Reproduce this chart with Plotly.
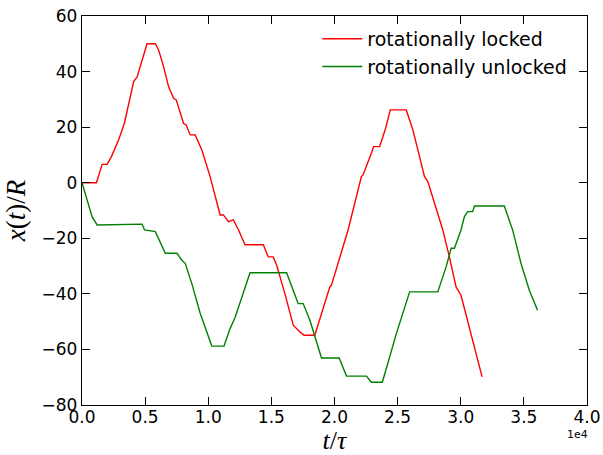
import plotly.graph_objects as go

# rotationally locked (red)
t_locked = [0, 1145, 1595, 1990, 2330, 2646, 2900, 3357, 4092, 4360, 4755, 5150, 5806, 6066,
            6460, 6856, 7250, 7464, 8040, 8254, 8570, 8965, 9494, 10150, 10940, 11200, 11600,
            11990, 12400, 12915, 14360, 14755, 15150, 15420, 16070, 16730, 17260, 17600, 18440,
            18970, 19630, 19760, 20680, 21075, 22130, 22260, 22920, 23100, 23580, 24050, 24420,
            25685, 26210, 27130, 27390, 28580, 29100, 29630, 30020, 31690]
x_locked = [0, 0, 6.6, 6.6, 9.4, 13, 15.4, 21.4, 36.4, 38, 44.2, 50, 50, 47.8,
            41.8, 34.6, 30.4, 29.8, 21.4, 20.8, 17.2, 17.2, 11.8, 2.2, -11.6, -11.6, -14,
            -13.4, -17, -22.3, -22.3, -26.7, -26.7, -29.7, -39.9, -51.3, -53.7, -54.9, -54.9,
            -47, -37.5, -36.9, -23, -17, 2.2, 2.8, 10.6, 13, 13, 19.6, 26.2,
            26.2, 19, 2.2, 0.4, -17, -26.7, -37.5, -40.5, -69.9]

# rotationally unlocked (green)
t_unlocked = [0, 410, 805, 1200, 4755, 4960, 5806, 6600, 7520, 7910, 8175, 8700, 9360, 10280,
              11250, 11730, 12125, 13310, 16210, 17120, 17520, 18050, 18970, 20370, 20950,
              22530, 22920, 23790, 24900, 25950, 28180, 28840, 29240, 29500, 30020, 30290,
              30550, 30950, 31080, 33450, 34110, 34770, 35430, 36080]
x_unlocked = [0, -6.2, -12.3, -15.2, -14.9, -17, -17.6, -25.4, -25.4, -27.9, -29, -36.3, -47, -58.8,
              -58.8, -52.5, -48.5, -32.4, -32.4, -43.5, -43.5, -49.5, -63.1, -63.1, -69.6,
              -69.6, -71.8, -71.8, -54.3, -39.3, -39.3, -30.3, -23.6, -23.6, -17, -12.2,
              -10.4, -10.4, -8.4, -8.4, -17, -29, -38.7, -45.9]

x_tickvals = [0, 5000, 10000, 15000, 20000, 25000, 30000, 35000, 40000]
x_ticktext = ["0.0", "0.5", "1.0", "1.5", "2.0", "2.5", "3.0", "3.5", "4.0"]
y_tickvals = [-80, -60, -40, -20, 0, 20, 40, 60]
y_ticktext = ["\u221280", "\u221260", "\u221240", "\u221220", "0", "20", "40", "60"]

fig = go.Figure()
fig.add_trace(go.Scatter(x=t_locked, y=x_locked, mode="lines", name="rotationally locked",
                         legendgroup="a",
                         line=dict(color="#ff0000", width=1.4)))
fig.add_trace(go.Scatter(x=t_unlocked, y=x_unlocked, mode="lines", name="rotationally unlocked",
                         legendgroup="b",
                         line=dict(color="#008000", width=1.4)))

axis_common = dict(showgrid=False, zeroline=False, showline=True, linecolor="black",
                   linewidth=1.3, mirror="ticks", ticks="inside", ticklen=8, tickwidth=1.2,
                   automargin=False,
                   tickcolor="black", tickfont=dict(family="DejaVu Sans", size=17, color="black"))

fig.update_layout(
    width=603, height=455,
    margin=dict(l=81.5, r=15.7, t=16.2, b=50.3),
    plot_bgcolor="white", paper_bgcolor="white",
    xaxis=dict(range=[0, 40000], tickvals=x_tickvals, ticktext=x_ticktext,
               ticklabelstandoff=-4,
               title=dict(text="<i>t</i>/<i>τ</i>", font=dict(family="Liberation Serif", size=26, color="black"),
                          standoff=6),
               **axis_common),
    yaxis=dict(range=[-80, 60], tickvals=y_tickvals, ticktext=y_ticktext,
               title=dict(text="<i>x</i>(<i>t</i>)/<i>R</i>", font=dict(family="Liberation Serif", size=27, color="black"),
                          standoff=8),
               **axis_common),
    legend=dict(x=0.466, y=0.99, xanchor="left", yanchor="top", bgcolor="rgba(0,0,0,0)",
                borderwidth=0, font=dict(family="DejaVu Sans", size=19, color="black"),
                itemwidth=40, tracegroupgap=0),
    showlegend=True,
)

fig.add_annotation(text="1e4", x=0.982, y=-0.075, xref="paper", yref="paper",
                   showarrow=False, xanchor="center", yanchor="middle",
                   font=dict(family="DejaVu Sans", size=11, color="black"))

fig.write_html("out.html")
